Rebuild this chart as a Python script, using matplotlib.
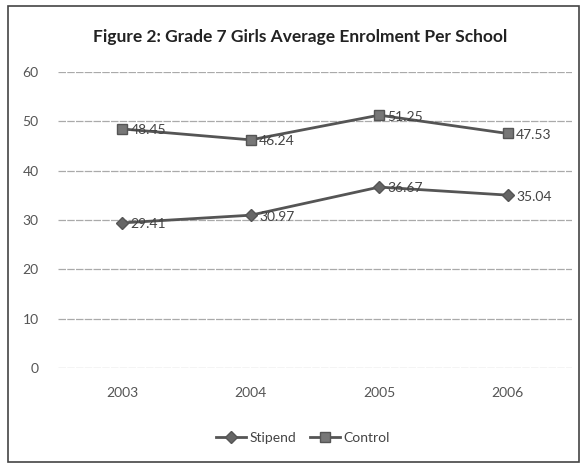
import matplotlib.pyplot as plt
from matplotlib.patches import Rectangle

years = ["2003", "2004", "2005", "2006"]
stipend = [29.41, 30.97, 36.67, 35.04]
control = [48.45, 46.24, 51.25, 47.53]
y_ticks = [0, 10, 20, 30, 40, 50, 60]

plt.rcParams["font.family"] = ["Lato", "DejaVu Sans"]

fig = plt.figure(figsize=(5.82, 4.68), dpi=100)
fig.patches.append(Rectangle((0.014, 0.013), 0.98, 0.975, transform=fig.transFigure,
                             fill=False, edgecolor="#444444", linewidth=1.2))
ax = fig.add_axes([0.0997, 0.2137, 0.883, 0.6325])

x = list(range(len(years)))
line_col = "#555555"
ax.plot(x, stipend, color=line_col, linewidth=2, marker="D", markersize=6,
        markerfacecolor="#666666", markeredgecolor="#555555", label="Stipend")
ax.plot(x, control, color=line_col, linewidth=2, marker="s", markersize=7,
        markerfacecolor="#777777", markeredgecolor="#555555", label="Control")

for xi, v in zip(x, stipend):
    ax.annotate(f"{v:.2f}", (xi, v), xytext=(6, -1), textcoords="offset points",
                va="center", ha="left", fontsize=10, color="#444444")
for xi, v in zip(x, control):
    ax.annotate(f"{v:.2f}", (xi, v), xytext=(6, -1), textcoords="offset points",
                va="center", ha="left", fontsize=10, color="#444444")

ax.set_xlim(-0.5, 3.5)
ax.set_ylim(0, 60)
ax.set_xticks(x)
ax.set_xticklabels(years)
ax.set_yticks(y_ticks)
ax.tick_params(length=0, labelsize=10, colors="#555555")
ax.tick_params(axis="x", pad=14)
ax.tick_params(axis="y", pad=14)
ax.grid(axis="y", color="#aaaaaa", linewidth=0.9, linestyle=(0, (6, 1)))
ax.set_axisbelow(True)
for s in ax.spines.values():
    s.set_visible(False)

fig.text(0.515, 0.922, "Figure 2: Grade 7 Girls Average Enrolment Per School",
         ha="center", va="center", fontsize=12.5, fontweight="bold", color="#222222")

fig.legend(loc="center", bbox_to_anchor=(0.52, 0.065), ncol=2, frameon=False,
           fontsize=10, handlelength=2.2, columnspacing=1.0, handletextpad=0.2,
           labelcolor="#444444")

fig.savefig("out.png", dpi=100)
